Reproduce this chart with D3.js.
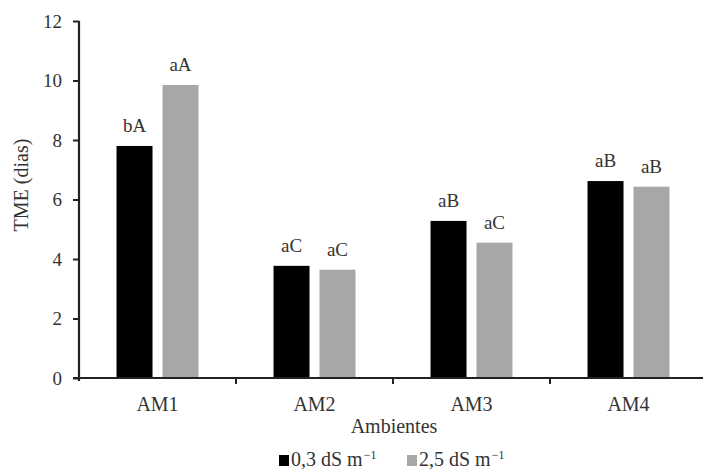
<!DOCTYPE html>
<html>
<head>
<meta charset="utf-8">
<script src="https://cdn.jsdelivr.net/npm/d3@7"></script>
<style>
	body { margin: 0; background: #fff; }
	svg { display: block; }
	text { font-family: "Liberation Serif", "Times New Roman", serif; fill: #333; }
</style>
</head>
<body>
<svg id="chart" width="703" height="471"></svg>
<script>
var categories = ["AM1", "AM2", "AM3", "AM4"];
var series = ["0,3 dS m", "2,5 dS m"];
var low = [7.8, 3.77, 5.28, 6.62];
var high = [9.85, 3.64, 4.55, 6.43];
var lowLetters = ["bA", "aC", "aB", "aB"];
var highLetters = ["aA", "aC", "aC", "aB"];
var yTicks = [0, 2, 4, 6, 8, 10, 12];
var colors = ["#000000", "#a9a6a6"];

var svg = d3.select("#chart");

// plot area (avoid "top" - it clashes with window.top)
var plotLeft = 79, plotRight = 707, plotTop = 21, plotBottom = 378;

var x0 = d3.scaleBand()
	.domain(categories)
	.range([plotLeft, plotRight])
	.paddingInner(0.478)
	.paddingOuter(0.239);

var x1 = d3.scaleBand()
	.domain([0, 1])
	.range([0, x0.bandwidth()])
	.paddingInner(0.217);

var y = d3.scaleLinear()
	.domain([0, 12])
	.range([plotBottom, plotTop]);

var records = categories.map(function(c, i) {
	return {cat: c, values: [
		{s: 0, v: low[i], label: lowLetters[i]},
		{s: 1, v: high[i], label: highLetters[i]}
	]};
});

// bars
var groups = svg.append("g").selectAll("g")
	.data(records)
	.enter().append("g")
	.attr("transform", function(d) { return "translate(" + x0(d.cat) + ",0)"; });

groups.selectAll("rect")
	.data(function(d) { return d.values; })
	.enter().append("rect")
	.attr("x", function(d) { return x1(d.s); })
	.attr("y", function(d) { return y(d.v); })
	.attr("width", x1.bandwidth())
	.attr("height", function(d) { return y(0) - y(d.v); })
	.attr("fill", function(d) { return colors[d.s]; });

// significance letters
groups.selectAll("text")
	.data(function(d) { return d.values; })
	.enter().append("text")
	.attr("x", function(d) { return x1(d.s) + x1.bandwidth() / 2; })
	.attr("y", function(d) { return y(d.v) - 14; })
	.attr("text-anchor", "middle")
	.style("font-size", "19px")
	.text(function(d) { return d.label; });

// y axis
var yAxis = svg.append("g")
	.attr("transform", "translate(" + plotLeft + ",0)")
	.call(d3.axisLeft(y).tickValues(yTicks).tickSize(6).tickPadding(11));
yAxis.selectAll("text").style("font-size", "19px").style("font-family", "Liberation Serif").attr("fill", "#333");
yAxis.select(".domain").attr("stroke", "#222").attr("stroke-width", 2.2).attr("d", "M0," + (plotBottom + 3) + "V" + plotTop);
yAxis.selectAll(".tick line").attr("stroke", "#222").attr("stroke-width", 2);

// x axis with ticks at category boundaries
var xAxis = svg.append("g")
	.attr("transform", "translate(0," + plotBottom + ")");
xAxis.append("line")
	.attr("x1", plotLeft - 6).attr("x2", plotRight)
	.attr("stroke", "#222").attr("stroke-width", 2.2);
xAxis.selectAll(".sep")
	.data(categories.slice(1))
	.enter().append("line")
	.attr("x1", function(d) { return x0(d) - x0.step() * x0.paddingInner() / 2; })
	.attr("x2", function(d) { return x0(d) - x0.step() * x0.paddingInner() / 2; })
	.attr("y1", 0).attr("y2", 6)
	.attr("stroke", "#222").attr("stroke-width", 2);
xAxis.selectAll(".lab")
	.data(categories)
	.enter().append("text")
	.attr("x", function(d) { return x0(d) + x0.bandwidth() / 2; })
	.attr("y", 33)
	.attr("text-anchor", "middle")
	.style("font-size", "20px")
	.text(function(d) { return d; });

// axis titles
svg.append("text")
	.attr("x", 394)
	.attr("y", 433)
	.attr("text-anchor", "middle")
	.style("font-size", "20px")
	.text("Ambientes");

svg.append("text")
	.attr("transform", "translate(28,185) rotate(-90)")
	.attr("text-anchor", "middle")
	.style("font-size", "20px")
	.text("TME (dias)");

// legend
var legend = svg.append("g").attr("transform", "translate(279,466)");
var items = legend.selectAll("g")
	.data(series)
	.enter().append("g")
	.attr("transform", function(d, i) { return "translate(" + (i * 128) + ",0)"; });
items.append("rect")
	.attr("x", 0).attr("y", -11)
	.attr("width", 10).attr("height", 11)
	.attr("fill", function(d, i) { return colors[i]; });
var lt = items.append("text")
	.attr("x", 12)
	.attr("y", 0)
	.style("font-size", "20px");
lt.append("tspan").text(function(d) { return d; });
lt.append("tspan")
	.attr("dx", 1)
	.attr("dy", -7)
	.style("font-size", "12px")
	.text("−1");
</script>
</body>
</html>
